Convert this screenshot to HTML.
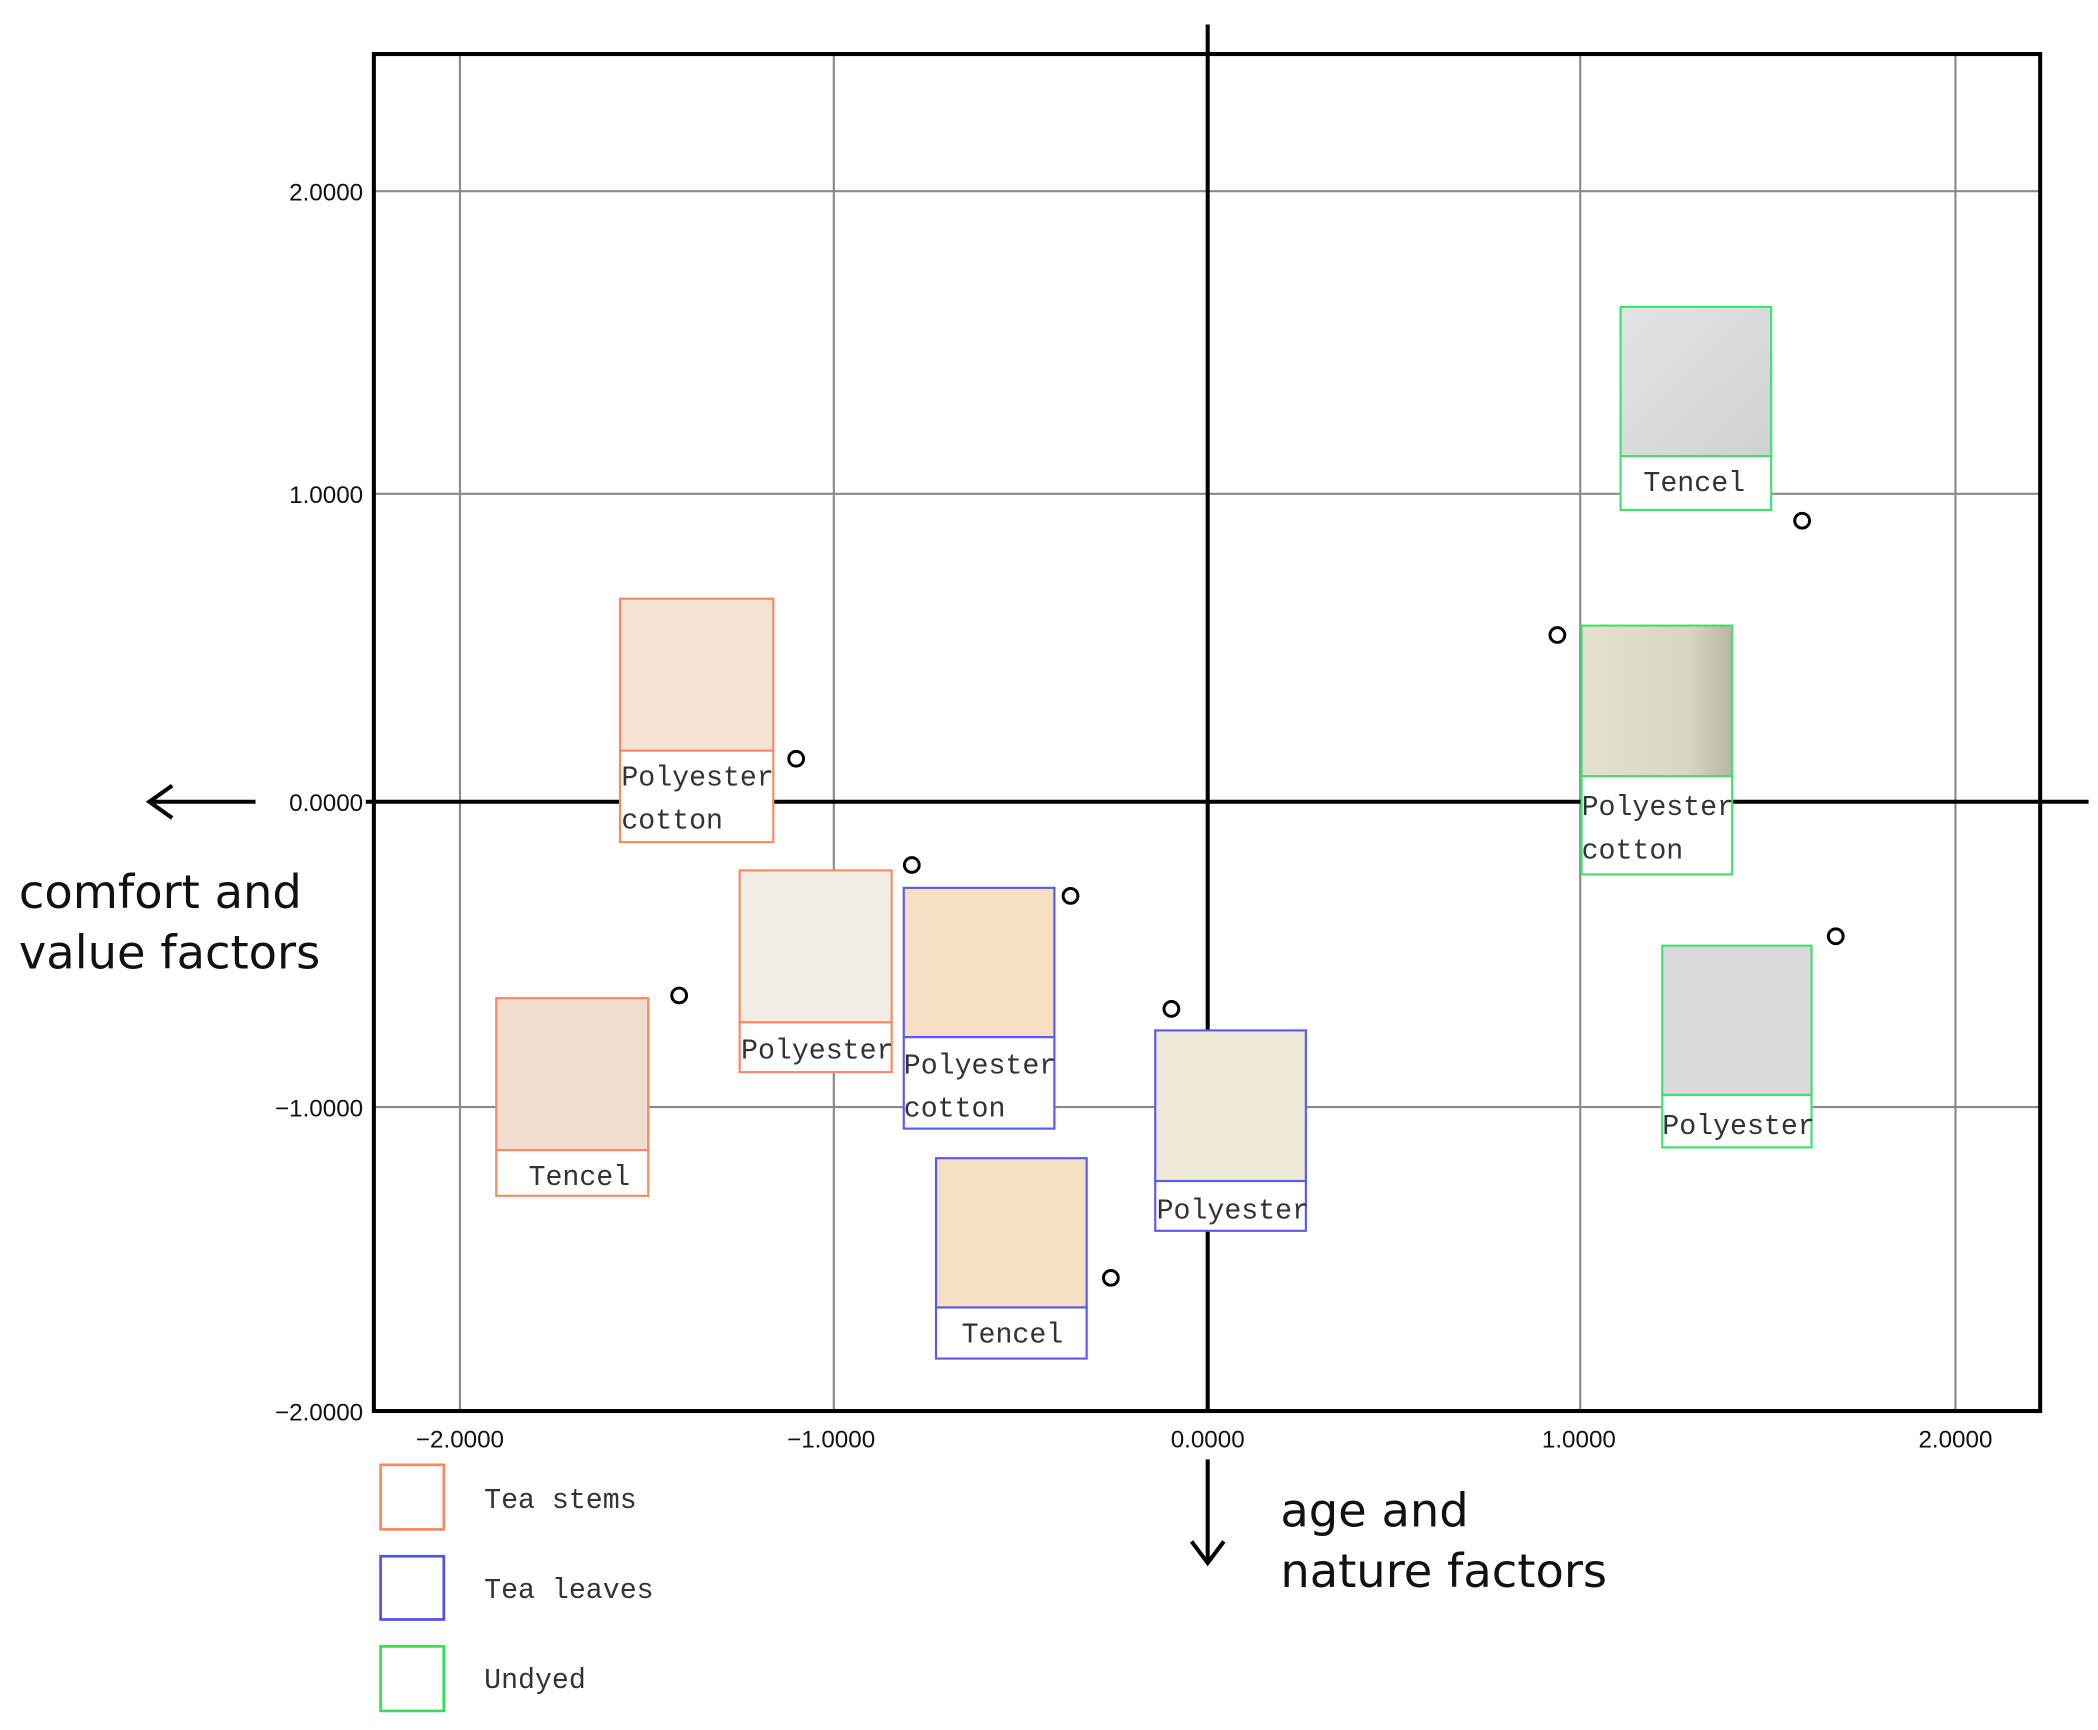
<!DOCTYPE html>
<html><head><meta charset="utf-8"><style>
html,body{margin:0;padding:0;background:#fff;}
svg{display:block;}
.t{font-family:"Liberation Sans","DejaVu Sans",sans-serif;font-size:18px;fill:#111;}
.m{font-family:"Liberation Mono",monospace;font-size:21px;fill:#333;}
.big{font-family:"DejaVu Sans","Noto Sans CJK SC",sans-serif;font-size:34.5px;fill:#111;}
</style></head><body>
<svg width="2098" height="1730" viewBox="0 0 1560 1286" xmlns="http://www.w3.org/2000/svg">
<defs>
<linearGradient id="gpc" x1="0" y1="0" x2="1" y2="0"><stop offset="0" stop-color="#e4e2cc"/><stop offset="0.7" stop-color="#d9d7c2"/><stop offset="1" stop-color="#b9b6a2"/></linearGradient>
<linearGradient id="gt" x1="0" y1="0" x2="1" y2="1"><stop offset="0" stop-color="#e2e4e5"/><stop offset="1" stop-color="#cfd1d2"/></linearGradient>
</defs>
<rect width="1560" height="1286" fill="#fff"/>
<g stroke="#8a8a8a" stroke-width="1.6">
<line x1="342" y1="39" x2="342" y2="1050"/><line x1="620" y1="39" x2="620" y2="1050"/>
<line x1="1175" y1="39" x2="1175" y2="1050"/><line x1="1454" y1="39" x2="1454" y2="1050"/>
<line x1="277" y1="142" x2="1518" y2="142"/><line x1="277" y1="367" x2="1518" y2="367"/>
<line x1="277" y1="823" x2="1518" y2="823"/>
</g>
<rect x="278" y="40" width="1239" height="1009" fill="none" stroke="#000" stroke-width="3"/>
<g stroke="#000" stroke-width="3" fill="none">
<line x1="898" y1="18" x2="898" y2="1050"/>
<line x1="272" y1="596" x2="1553" y2="596"/>
<line x1="190" y1="596" x2="112" y2="596"/><polyline points="128,584 111,596 128,608"/>
<line x1="898" y1="1085" x2="898" y2="1160"/><polyline points="886,1146 898,1162 910,1146"/>
</g>
<g class="t" text-anchor="end">
<text x="270" y="149">2.0000</text><text x="270" y="374">1.0000</text><text x="270" y="603">0.0000</text>
<text x="270" y="830">−1.0000</text><text x="270" y="1056">−2.0000</text>
</g>
<g class="t" text-anchor="middle">
<text x="342" y="1076">−2.0000</text><text x="618" y="1076">−1.0000</text><text x="898" y="1076">0.0000</text>
<text x="1174" y="1076">1.0000</text><text x="1454" y="1076">2.0000</text>
</g>
<text class="big" x="14" y="675">comfort and</text>
<text class="big" x="14" y="720">value factors</text>
<text class="big" x="952" y="1135">age and</text>
<text class="big" x="952" y="1180">nature factors</text>
<g stroke-width="1.6">
<rect x="461" y="445" width="114" height="113" fill="#f3e3d2" stroke="#f58a62"/>
<rect x="461" y="558" width="114" height="68" fill="#fff" stroke="#f58a62"/>
<rect x="550" y="647" width="113" height="113" fill="#f2eee6" stroke="#f58a62"/>
<rect x="550" y="760" width="113" height="37" fill="#fff" stroke="#f58a62"/>
<rect x="369" y="742" width="113" height="113" fill="#f2ddd1" stroke="#f58a62"/>
<rect x="369" y="855" width="113" height="34" fill="#fff" stroke="#f58a62"/>
<rect x="672" y="660" width="112" height="111" fill="#f6dfc2" stroke="#5a5af0"/>
<rect x="672" y="771" width="112" height="68" fill="#fff" stroke="#5a5af0"/>
<rect x="696" y="861" width="112" height="111" fill="#f5e1c4" stroke="#5a5af0"/>
<rect x="696" y="972" width="112" height="38" fill="#fff" stroke="#5a5af0"/>
<rect x="859" y="766" width="112" height="112" fill="#f0ead9" stroke="#5a5af0"/>
<rect x="859" y="878" width="112" height="37" fill="#fff" stroke="#5a5af0"/>
<rect x="1205" y="228" width="112" height="111" fill="url(#gt)" stroke="#40e070"/>
<rect x="1205" y="339" width="112" height="40" fill="#fff" stroke="#40e070"/>
<rect x="1176" y="465" width="112" height="112" fill="url(#gpc)" stroke="#40e070"/>
<rect x="1176" y="577" width="112" height="73" fill="#fff" stroke="#40e070"/>
<rect x="1236" y="703" width="111" height="111" fill="#d9d9dd" stroke="#40e070"/>
<rect x="1236" y="814" width="111" height="39" fill="#fff" stroke="#40e070"/>
</g>
<g class="m">
<text x="462" y="584">Polyester</text><text x="462" y="616">cotton</text>
<text x="551" y="787">Polyester</text>
<text x="393" y="881">Tencel</text>
<text x="672" y="798">Polyester</text><text x="672" y="830">cotton</text>
<text x="715" y="998">Tencel</text>
<text x="860" y="906">Polyester</text>
<text x="1222" y="365">Tencel</text>
<text x="1176" y="606">Polyester</text><text x="1176" y="638">cotton</text>
<text x="1236" y="843">Polyester</text>
</g>
<g fill="#fff" stroke="#000" stroke-width="2.2">
<circle cx="592" cy="564" r="5.5"/><circle cx="678" cy="643" r="5.5"/><circle cx="505" cy="740" r="5.5"/>
<circle cx="796" cy="666" r="5.5"/><circle cx="826" cy="950" r="5.5"/><circle cx="871" cy="750" r="5.5"/>
<circle cx="1340" cy="387" r="5.5"/><circle cx="1158" cy="472" r="5.5"/><circle cx="1365" cy="696" r="5.5"/>
</g>
<g fill="#fff" stroke-width="2">
<rect x="283" y="1089" width="47" height="48" stroke="#f58a62"/>
<rect x="283" y="1157" width="47" height="47" stroke="#5050f0"/>
<rect x="283" y="1224" width="47" height="48" stroke="#30e050"/>
</g>
<g class="m">
<text x="360" y="1121">Tea stems</text>
<text x="360" y="1188">Tea leaves</text>
<text x="360" y="1255">Undyed</text>
</g>
</svg>
</body></html>
